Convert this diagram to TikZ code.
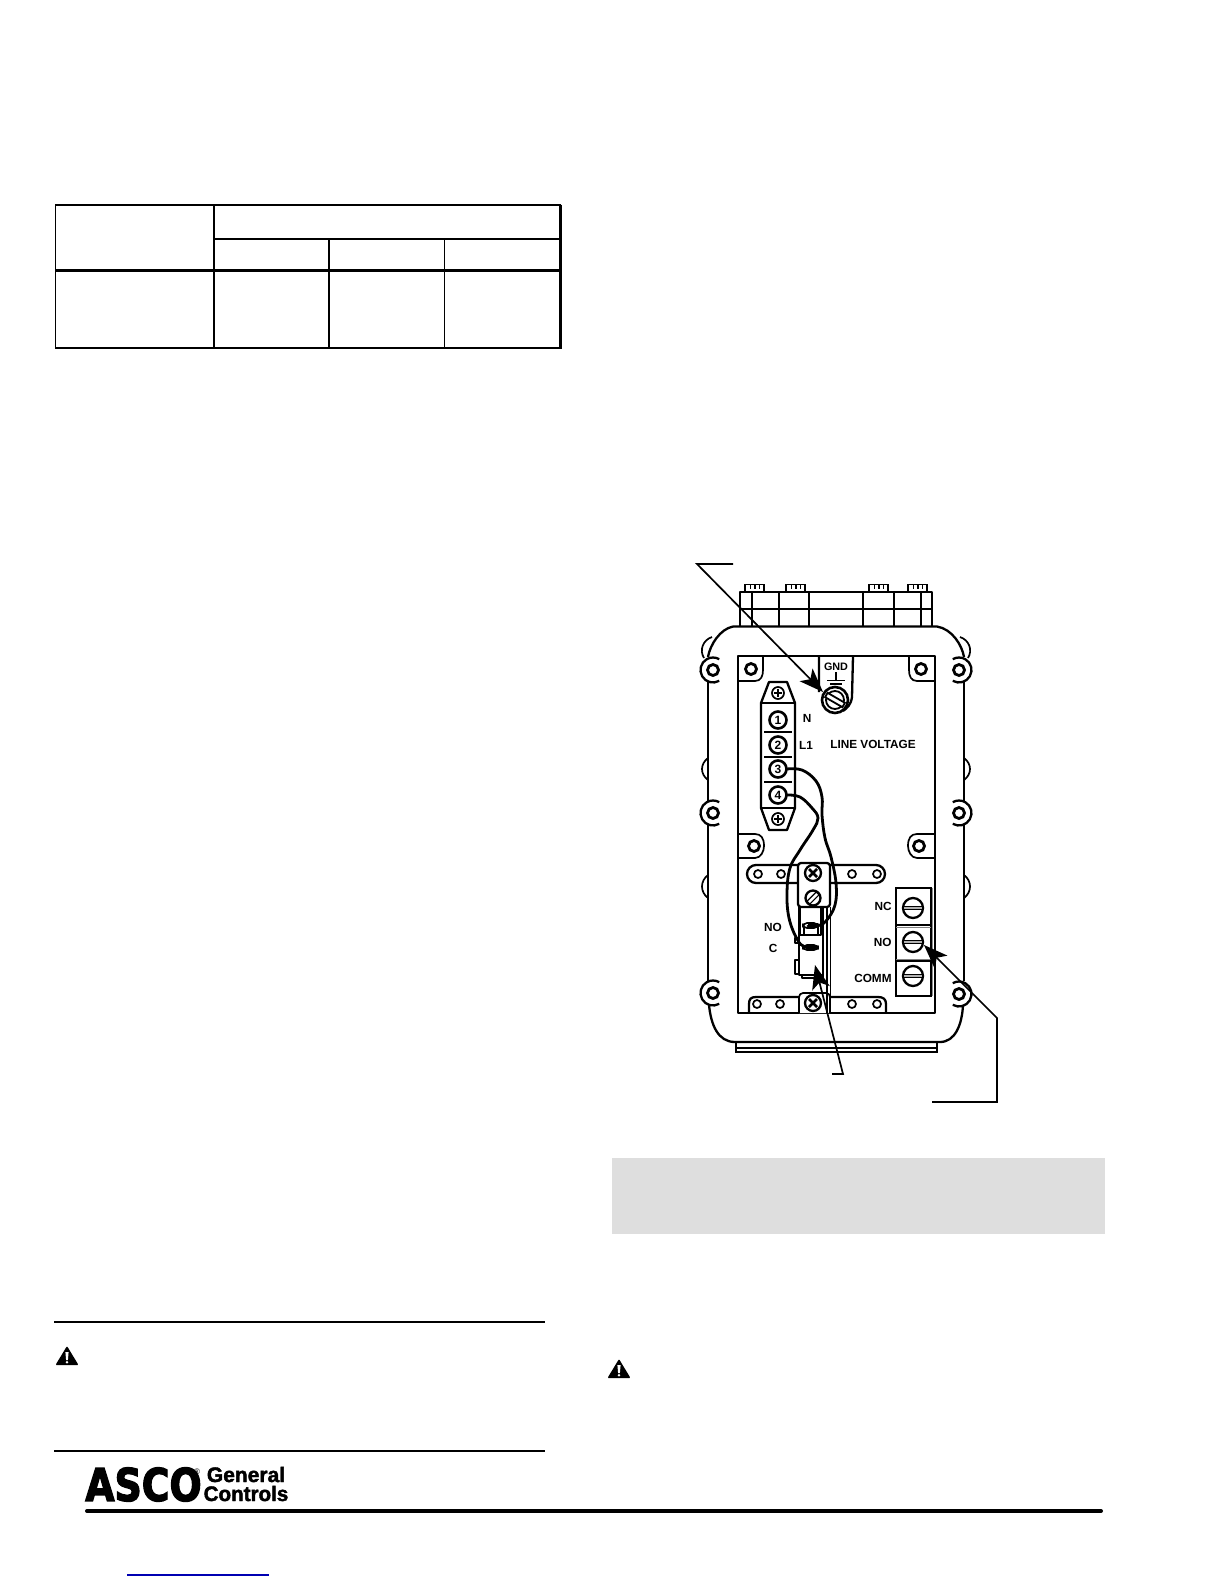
\documentclass[tikz,border=0pt]{standalone}
\usepackage{fontspec}
\usetikzlibrary{arrows.meta}
\setmainfont{Liberation Sans}
\newfontfamily\logofont[FakeBold=3]{DejaVu Sans Bold}
\newfontfamily\condfont[FakeBold=2]{Liberation Sans Bold}
\tikzset{
  ln/.style={line width=0.85pt,line join=round},
  hv/.style={line width=1.15pt,line join=round},
  wire/.style={line width=1.4pt,line cap=round},
  lab/.style={font=\bfseries\fontsize{5.9}{6}\selectfont,inner sep=0pt},
  leader/.style={line width=0.85pt,-{Stealth[length=12pt,width=9pt,inset=3pt]}},
}
\newcommand{\hole}[1]{\draw[line width=1.4pt,fill=white] #1 circle (5.5);}
\newcommand{\ringL}[1]{\draw[hv] #1 ++(60:12.5) arc[start angle=-60,end angle=-300,radius=6.25pt]; \hole{#1}}
\newcommand{\ringR}[1]{\draw[hv] #1 ++(120:12.5) arc[start angle=-120,end angle=120,radius=6.25pt]; \hole{#1}}
\newcommand{\smallhole}[1]{\draw[ln,fill=white] #1 circle (4);}
\newcommand{\xscrew}[1]{\draw[hv,fill=white] #1 circle (8);
  \draw[line width=1.3pt] #1 ++(-4,-4) -- ++(8,8) #1 ++(-4,4) -- ++(8,-8);}
\newcommand{\plusscrew}[1]{\draw[ln,fill=white] #1 circle (6);
  \draw[line width=0.6pt] #1 ++(-4,0) -- ++(8,0) #1 ++(0,-4) -- ++(0,8);}
\newcommand{\hscrew}[1]{\draw[hv,fill=white] #1 circle (10);
  \draw[line width=0.6pt,fill=gray!60] #1 ++(-10,-1.5) rectangle ++(20,3);}
\newcommand{\warnsign}[1]{\fill[rounded corners=0.5pt] #1 ++(0,-10) -- ++(-11.5,19) -- ++(23,0) -- cycle;
  \fill[white] #1 ++(-1.6,-4) -- ++(3.2,0) -- ++(-0.7,8) -- ++(-1.8,0) -- cycle; \fill[white] #1 ++(0,6.2) circle (1.4);}
\begin{document}
\begin{tikzpicture}[x=0.5pt,y=-0.5pt]
\useasboundingbox (0,0) rectangle (1224,1584);
% table
\draw[line width=0.75pt] (55.5,205) rectangle (560,348);
\draw[line width=0.75pt] (214,205) -- (214,348) (214,239) -- (560,239)
  (329,239) -- (329,348) (444.5,239) -- (444.5,348);
\draw[line width=1.5pt] (55,270.5) -- (560.5,270.5);
\draw[line width=1.5pt] (560.5,204.5) -- (560.5,348.5);
% rules and notes
\draw[line width=1pt] (54,1321.5) -- (545,1321.5);
\draw[line width=0.75pt] (54,1451) -- (545,1451);
\warnsign{(67,1356)}
\warnsign{(619,1369)}
\fill[black!13] (612,1158) rectangle (1105,1234);
% logo
\node[inner sep=0pt,anchor=center] (asco) at (143.5,1484.5) {\scalebox{0.84}[1]{\logofont\fontsize{22.5}{24}\selectfont ASCO}};
\node[inner sep=0pt] (reg) at (197,1472) {\fontsize{4}{4}\selectfont ®};
\node[inner sep=0pt,anchor=center] (gen) at (246,1474.5) {\scalebox{1.0}[1]{\condfont\fontsize{10.5}{10.5}\selectfont General}};
\node[inner sep=0pt,anchor=center] (con) at (246,1493.5) {\scalebox{0.98}[1]{\condfont\fontsize{10.5}{10.5}\selectfont Controls}};
\draw[line width=2pt,line cap=round] (87,1511) -- (1101,1511);
\draw[blue!70!black,line width=0.6pt] (127,1575) -- (269,1575);
% top block
\draw[hv] (740,626) -- (740,592) -- (932,592) -- (932,626);
\draw[ln] (740,609) -- (932,609);
\foreach \x in {752,779,809,863,894,921}{\draw[ln] (\x,592) -- (\x,626);}
\foreach \x in {745,786,869,908}{
  \draw[line width=0.7pt] (\x,592) -- (\x,584.5) -- ++(19,0) -- ++(0,7.5)
    (\x+5.5,584.5) -- ++(0,4) (\x+10,584.5) -- ++(0,4) (\x+14.5,584.5) -- ++(0,4);
}
% body
\draw[hv] (733,626.5) -- (937,626.5) .. controls (952,629) and (962,645) .. (964,657);
\draw[hv] (733,626.5) .. controls (720,629) and (710,645) .. (708,657);
\draw[hv] (708,682) -- (708,801) (708,825) -- (708,981) (964,682) -- (964,801) (964,825) -- (964,981);
\draw[hv] (709,1005) .. controls (711,1025) and (718,1042) .. (735,1042) -- (940,1042) .. controls (955,1042) and (962,1025) .. (963,1005);
\draw[ln] (712,637) .. controls (703,640) and (699,650) .. (704,658);
\draw[ln] (960,637) .. controls (969,640) and (973,650) .. (968,658);
\foreach \y/\z in {758/780,875/898}{
 \draw[ln] (708,\y) .. controls (700,\y+6) and (700,\z-6) .. (708,\z);
 \draw[ln] (964,\y) .. controls (972,\y+6) and (972,\z-6) .. (964,\z);
}
\ringL{(713,670)}\ringL{(713,813)}\ringL{(713,993)}
\ringR{(959,670)}\ringR{(959,813)}\ringR{(959,994)}
\draw[line width=0.8pt] (736,1042) -- (736,1052) -- (937,1052) -- (937,1042) (736,1048) -- (937,1048);
% panel
\draw[hv] (738,656) rectangle (935,1013);
\draw[ln] (738,681) -- (755,681) .. controls (761,681) and (763,676) .. (763,670) -- (763,656);
\draw[ln] (935,681) -- (917,681) .. controls (911,681) and (909,676) .. (909,670) -- (909,656);
\draw[ln] (738,834) -- (755,834) .. controls (761,834) and (764,838) .. (764,846) .. controls (764,851) and (761,858) .. (755,858) -- (738,858);
\draw[ln] (935,834) -- (917,834) .. controls (911,834) and (908,838) .. (908,846) .. controls (908,851) and (911,858) .. (917,858) -- (935,858);
\hole{(751,669)}\hole{(921,669)}\hole{(754,846)}\hole{(919,846)}
% ground lug
\draw[hv] (819,656) -- (819,692) (853,656) -- (852,697) .. controls (851,705) and (847,708) .. (843,711);
\node[lab,font=\bfseries\fontsize{5.4}{6}\selectfont] (gnd) at (836,667) {GND};
\draw[line width=0.7pt] (836,672) -- (836,680) (827,680.5) -- (845,680.5);
\draw[line width=1pt] (830,684) -- (842,684);
\draw[line width=1.3pt,fill=white] (835,700) circle (13);
\draw[line width=0.9pt,fill=white] (835,700) circle (9);
\draw[line width=0.9pt,fill=white,rotate around={-30:(835,700)}] (825,697.5) rectangle (845,702.5);
% terminal strip
\draw[hv,fill=white] (769,682) -- (787,682) -- (795,703) -- (795,808) -- (787,830) -- (769,830) -- (761,808) -- (761,703) -- cycle;
\draw[ln] (761,703) -- (795,703) (761,808) -- (795,808);
\plusscrew{(778,693)}\plusscrew{(778,819)}
\foreach \y in {732,757,782}{\draw[line width=1.4pt] (764,\y) -- (792,\y);}
\foreach \y/\t in {720/1,745/2,769/3,795/4}{
  \draw[line width=1.3pt,fill=white] (778,\y) circle (8.5);
  \node[inner sep=0pt,font=\bfseries\fontsize{6}{7}\selectfont] (t\t) at (778,\y) {\t};
}
\node[lab] (nn) at (807,718) {N};
\node[lab] (l1) at (806,745) {L1};
\node[lab] (lv) at (873,744) {LINE VOLTAGE};
% upper bar
\draw[hv] (756,865) -- (876,865) arc[start angle=90,end angle=-90,radius=4.5pt] -- (756,883) arc[start angle=270,end angle=90,radius=4.5pt] -- cycle;
\foreach \x in {758,781,852,877}{\smallhole{(\x,874)}}
% lower bar
\draw[hv] (749,1013) -- (749,1004) .. controls (749,999) and (751,997) .. (756,997) -- (878,997) .. controls (883,997) and (886,999) .. (886,1004) -- (886,1013);
\foreach \x in {757,780,852,877}{\smallhole{(\x,1004)}}
% rails and switch
\draw[line width=0.8pt] (827,907) -- (827,1013) (830.5,907) -- (830.5,1013);
\draw[hv,fill=white] (799,907) rectangle (823,975);
\draw[ln,fill=white] (800,907) rectangle (821,935);
\draw[ln,fill=white] (804,925) rectangle (818,935);
\draw[ln,fill=white,rounded corners=2pt] (803,923) rectangle (818,928);
\fill (808,923) rectangle (818,928);
\draw[ln,fill=white,rounded corners=2pt] (803,945) rectangle (818,950);
\fill (806,945.5) rectangle (816,949.5);
\draw[ln] (799,938) -- (795,938) -- (795,943) -- (799,943);
\draw[ln] (799,960) -- (795,960) -- (795,974) -- (799,974);
\draw[ln] (802,975) rectangle (823,978);
% bracket block
\draw[hv,fill=white,rounded corners=1.5pt] (798,863) rectangle (830,907);
\xscrew{(813,873)}
\draw[hv,fill=white] (813,898) circle (7.5);
\draw[line width=0.6pt,fill=white,rotate around={45:(813,898)}] (806.5,896) rectangle (819.5,900);
% lower block
\draw[ln,fill=white,rounded corners=2pt] (799,1013) -- (799,993) -- (830,993) -- (830,1013);
\draw[line width=0.8pt] (827,993) -- (827,1013) (830.5,993) -- (830.5,1013);
\xscrew{(813,1003)}
% wires
\draw[wire] plot[smooth,tension=0.65] coordinates {(787,769) (802,770) (816,781) (822,797) (822,815) (825,838) (831,857) (836,883) (835,905) (826,921) (817,926) (808,926)};
\draw[wire] plot[smooth,tension=0.65] coordinates {(787,795) (800,797) (812,808) (818,818) (813,830) (800,850) (790,868) (787,893) (789,918) (797,939) (805,947) (817,947)};
% right terminal
\fill[black!45] (930.5,888) rectangle (933,996);
\draw[line width=0.9pt] (896,888) rectangle (931,996);
\draw[line width=1pt] (896,925) -- (931,925) (896,961) -- (931,961);
\draw[line width=0.5pt,black!50] (896,927) -- (931,927) (896,959) -- (931,959);
\hscrew{(913,908)}\hscrew{(913,942)}\hscrew{(913,976)}
\node[lab,anchor=east] (nc) at (892,906) {NC};
\node[lab,anchor=east] (no) at (892,942) {NO};
\node[lab,anchor=east] (cm) at (892,978) {COMM};
\node[lab] (no2) at (773,927) {NO};
\node[lab] (cc) at (773,948) {C};
% leaders
\coordinate (a1) at (733,564); \coordinate (a2) at (697,564); \coordinate (a3) at (823,692);
\coordinate (b1) at (832,1074); \coordinate (b2) at (843,1074); \coordinate (b3) at (815,965);
\coordinate (c1) at (932,1102); \coordinate (c2) at (997,1102); \coordinate (c3) at (997,1018); \coordinate (c4) at (924,945);
\draw[leader] (a1) -- (a2) -- (a3);
\draw[leader] (b1) -- (b2) -- (b3);
\draw[leader] (c1) -- (c2) -- (c3) -- (c4);
\end{tikzpicture}
\end{document}
